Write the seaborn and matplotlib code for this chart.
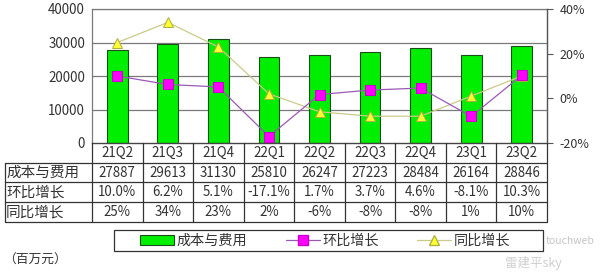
import numpy as np
import pandas as pd
import matplotlib
matplotlib.use("Agg")
import matplotlib.pyplot as plt
import seaborn as sns
from matplotlib.lines import Line2D
from matplotlib.patches import Patch, Rectangle
from matplotlib.transforms import blended_transform_factory

quarters = ["21Q2", "21Q3", "21Q4", "22Q1", "22Q2", "22Q3", "22Q4", "23Q1", "23Q2"]
cost = [27887, 29613, 31130, 25810, 26247, 27223, 28484, 26164, 28846]
qoq = [10.0, 6.2, 5.1, -17.1, 1.7, 3.7, 4.6, -8.1, 10.3]
yoy = [25, 34, 23, 2, -6, -8, -8, 1, 10]
qoq_labels = ["10.0%", "6.2%", "5.1%", "-17.1%", "1.7%", "3.7%", "4.6%", "-8.1%", "10.3%"]
yoy_labels = ["25%", "34%", "23%", "2%", "-6%", "-8%", "-8%", "1%", "10%"]
row_names = ["成本与费用", "环比增长", "同比增长"]
left_ticks = [0, 10000, 20000, 30000, 40000]
right_ticks = [-20, 0, 20, 40]

sns.set_style("white")
plt.rcParams["font.family"] = ["Noto Sans CJK SC", "DejaVu Sans"]

W, H = 600, 274
fig = plt.figure(figsize=(6.0, 2.74), dpi=100)
fig.patch.set_facecolor("white")

def fx(px):
    return px / W

def fy(py):
    return 1 - py / H

TXT = "#333333"
FS = 9.6

x0, x1, y0, y1 = 92, 547, 9, 143
ax = fig.add_axes([fx(x0), fy(y1), fx(x1) - fx(x0), (y1 - y0) / H])

df = pd.DataFrame({"q": quarters, "cost": cost, "qoq": qoq, "yoy": yoy})
sns.barplot(data=df, x="q", y="cost", ax=ax, color="#00ee00", width=0.41,
            edgecolor="#1a4d1a", linewidth=0.8, saturation=1, zorder=2)
ax.set_xlim(-0.5, len(quarters) - 0.5)
ax.set_ylim(0, 40000)
ax.set_yticks(left_ticks)
ax.set_yticklabels([str(v) for v in left_ticks], fontsize=FS, color=TXT)
ax.tick_params(axis="y", length=0, pad=5)
ax.set_xticks([])
ax.set_xlabel("")
ax.set_ylabel("")
for v in left_ticks[1:]:
    ax.axhline(v, color="#7a7a7a", lw=0.9, zorder=1)
for s in ["left", "top", "right"]:
    ax.spines[s].set_color("#7a7a7a")
    ax.spines[s].set_linewidth(0.9)
ax.spines["bottom"].set_color("#444444")
ax.spines["bottom"].set_linewidth(1.0)

ax2 = ax.twinx()
sns.lineplot(data=df, x="q", y="qoq", ax=ax2, color="#9b59b6", lw=0.9,
             marker="s", markersize=7, markerfacecolor="#ff00ff",
             markeredgecolor="#cc00cc", sort=False, zorder=4)
sns.lineplot(data=df, x="q", y="yoy", ax=ax2, color="#cdc98a", lw=0.9,
             marker="^", markersize=7.5, markerfacecolor="#ffff33",
             markeredgecolor="#b0b040", sort=False, zorder=3)
ax2.set_ylim(-20, 40)
ax2.set_yticks(right_ticks)
ax2.set_yticklabels([f"{v}%" for v in right_ticks], fontsize=9, color=TXT)
ax2.tick_params(axis="y", length=4, width=0.8, color="#555555", pad=5)
ax2.set_xlabel("")
ax2.set_ylabel("")
ax2.set_xlim(-0.5, len(quarters) - 0.5)
for s in ["left", "top", "bottom"]:
    ax2.spines[s].set_visible(False)
ax2.spines["right"].set_color("#555555")
ax2.spines["right"].set_linewidth(0.9)

# data table below the axes
tr = blended_transform_factory(ax.transData, fig.transFigure)
line_kw = dict(color="#333333", lw=0.9)
rows_y = [163, 182, 202, 222]
for py in rows_y:
    fig.add_artist(Line2D([fx(5), fx(x1)], [fy(py), fy(py)], **line_kw))
for i in range(len(quarters) + 1):
    xb = i - 0.5
    fig.add_artist(Line2D([xb, xb], [fy(y1), fy(222)], transform=tr, **line_kw))
fig.add_artist(Line2D([fx(5), fx(5)], [fy(163), fy(222)], **line_kw))

centers = [153, 173, 192, 212]
for i, q in enumerate(quarters):
    fig.text(i, fy(centers[0]), q, transform=tr, ha="center", va="center",
             fontsize=FS, color=TXT)
    fig.text(i, fy(centers[1]), str(cost[i]), transform=tr, ha="center",
             va="center", fontsize=FS, color=TXT)
    fig.text(i, fy(centers[2]), qoq_labels[i], transform=tr, ha="center",
             va="center", fontsize=FS, color=TXT)
    fig.text(i, fy(centers[3]), yoy_labels[i], transform=tr, ha="center",
             va="center", fontsize=FS, color=TXT)
for name, cy in zip(row_names, centers[1:]):
    fig.text(fx(6), fy(cy), name, ha="left", va="center", fontsize=10.5,
             color=TXT)

# legend box
fig.add_artist(Rectangle((fx(114), fy(251)), fx(543) - fx(114), 21 / H,
                         transform=fig.transFigure, fill=False,
                         edgecolor="#333333", lw=0.9))
handles = [
    Patch(facecolor="#00ee00", edgecolor="#1a4d1a", linewidth=0.8),
    Line2D([], [], color="#9b59b6", lw=0.9, marker="s", markersize=7,
           markerfacecolor="#ff00ff", markeredgecolor="#cc00cc"),
    Line2D([], [], color="#cdc98a", lw=0.9, marker="^", markersize=7,
           markerfacecolor="#ffff33", markeredgecolor="#b0b040"),
]
leg = fig.legend(handles, ["成本与费用", "环比增长", "同比增长"], ncol=3,
                 loc="center left", bbox_to_anchor=(fx(140), fy(240.5)),
                 frameon=False, fontsize=10.2,
                 handlelength=2.4, handleheight=0.7, borderpad=0,
                 columnspacing=2.7, handletextpad=0.2, borderaxespad=0)
for t in leg.get_texts():
    t.set_color(TXT)

fig.text(fx(3), fy(260), "（百万元）", ha="left", va="center", fontsize=9.2,
         color=TXT)

# watermark
fig.text(fx(546), fy(241), "touchweb", ha="left", va="center",
         fontsize=7.5, color="#c4c4c4")
fig.text(fx(505), fy(263), "雷建平sky", ha="left", va="center",
         fontsize=9, color="#cfcfcf")

fig.savefig("out.png", dpi=100, facecolor="white")
